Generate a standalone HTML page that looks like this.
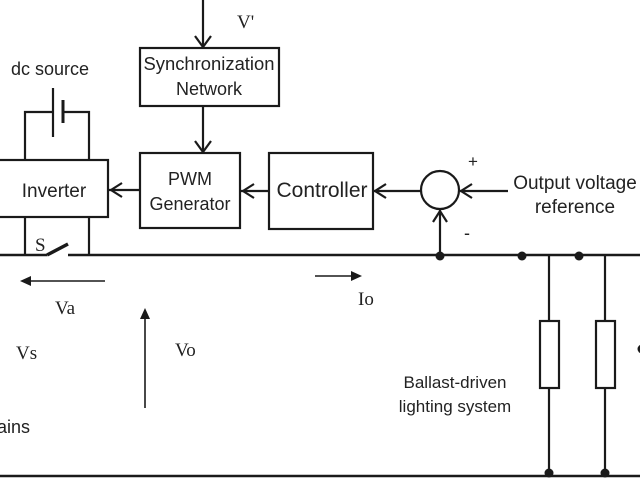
<!DOCTYPE html>
<html><head><meta charset="utf-8"><style>
html,body{margin:0;padding:0;background:#fff;}
svg{display:block;}
text{font-family:"Liberation Sans",sans-serif;fill:#222;}
.s{font-family:"Liberation Serif",serif;}
</style></head><body>
<svg width="640" height="480" viewBox="0 0 640 480" xmlns="http://www.w3.org/2000/svg">
<g stroke="#1a1a1a" fill="none" stroke-width="2.2">
<rect x="140" y="48" width="139" height="58"/>
<rect x="140" y="153" width="100" height="75"/>
<rect x="269" y="153" width="104" height="76"/>
<rect x="-2" y="160" width="110" height="57"/>
<circle cx="440" cy="190" r="19"/>
<line x1="203" y1="0" x2="203" y2="47"/>
<polyline points="195,36 203,47 211,36"/>
<line x1="203" y1="106" x2="203" y2="152"/>
<polyline points="195,141 203,152 211,141"/>
<line x1="109" y1="190" x2="140" y2="190"/>
<polyline points="122,183 111,190 122,197"/>
<line x1="241" y1="191" x2="269" y2="191"/>
<polyline points="254,184 243,191 254,198"/>
<line x1="374" y1="191" x2="421" y2="191"/>
<polyline points="386,184 375,191 386,198"/>
<line x1="460" y1="191" x2="508" y2="191"/>
<polyline points="472,184 461,191 472,198"/>
<line x1="440" y1="255" x2="440" y2="210"/>
<polyline points="433,222 440,211 447,222"/>
<polyline points="25,160 25,112 53,112"/>
<polyline points="89,160 89,112 63,112"/>
<line x1="53" y1="88" x2="53" y2="137"/>
<line x1="63" y1="100" x2="63" y2="123" stroke-width="3"/>
<line x1="25" y1="217" x2="25" y2="255"/>
<line x1="89" y1="217" x2="89" y2="255"/>
<line x1="0" y1="255" x2="47" y2="255" stroke-width="2.6"/>
<line x1="47" y1="255" x2="68" y2="244" stroke-width="3.5"/>
<line x1="68" y1="255" x2="640" y2="255" stroke-width="2.6"/>
<line x1="0" y1="476" x2="640" y2="476" stroke-width="2.6"/>
<line x1="549" y1="255" x2="549" y2="321"/>
<line x1="549" y1="388" x2="549" y2="476"/>
<rect x="540" y="321" width="19" height="67"/>
<line x1="605" y1="255" x2="605" y2="321"/>
<line x1="605" y1="388" x2="605" y2="476"/>
<rect x="596" y="321" width="19" height="67"/>
<line x1="105" y1="281" x2="28" y2="281" stroke-width="1.6"/>
<line x1="145" y1="408" x2="145" y2="318" stroke-width="1.6"/>
<line x1="315" y1="276" x2="352" y2="276" stroke-width="1.6"/>
</g>
<g fill="#1a1a1a">
<polygon points="20,281 31,276 31,286"/>
<polygon points="145,308 140,319 150,319"/>
<polygon points="362,276 351,271 351,281"/>
<circle cx="440" cy="256" r="4.5"/>
<circle cx="522" cy="256" r="4.5"/>
<circle cx="579" cy="256" r="4.5"/>
<circle cx="549" cy="473" r="4.5"/>
<circle cx="605" cy="473" r="4.5"/>
<circle cx="642" cy="349" r="4.5"/>
</g>
<g font-size="18">
<text x="209" y="70" text-anchor="middle" textLength="131" lengthAdjust="spacingAndGlyphs">Synchronization</text>
<text x="209" y="95" text-anchor="middle">Network</text>
<text x="190" y="185" text-anchor="middle">PWM</text>
<text x="190" y="210" text-anchor="middle">Generator</text>
<text x="322" y="197" text-anchor="middle" font-size="21">Controller</text>
<text x="54" y="197" text-anchor="middle" font-size="19">Inverter</text>
<text x="50" y="75" text-anchor="middle">dc source</text>
<text x="575" y="189" text-anchor="middle" font-size="19">Output voltage</text>
<text x="575" y="213" text-anchor="middle" font-size="19">reference</text>
<text x="455" y="388" text-anchor="middle" font-size="17">Ballast-driven</text>
<text x="455" y="412" text-anchor="middle" font-size="17">lighting system</text>
<text x="-3" y="433">ains</text>
<text x="468" y="167" font-size="17">+</text>
<text x="464" y="239" font-size="18">-</text>
</g>
<g font-size="19">
<text class="s" x="237" y="28">V'</text>
<text class="s" x="35" y="251">S</text>
<text class="s" x="55" y="314">Va</text>
<text class="s" x="16" y="359">Vs</text>
<text class="s" x="175" y="356">Vo</text>
<text class="s" x="358" y="305">Io</text>
</g>
</svg>
</body></html>
